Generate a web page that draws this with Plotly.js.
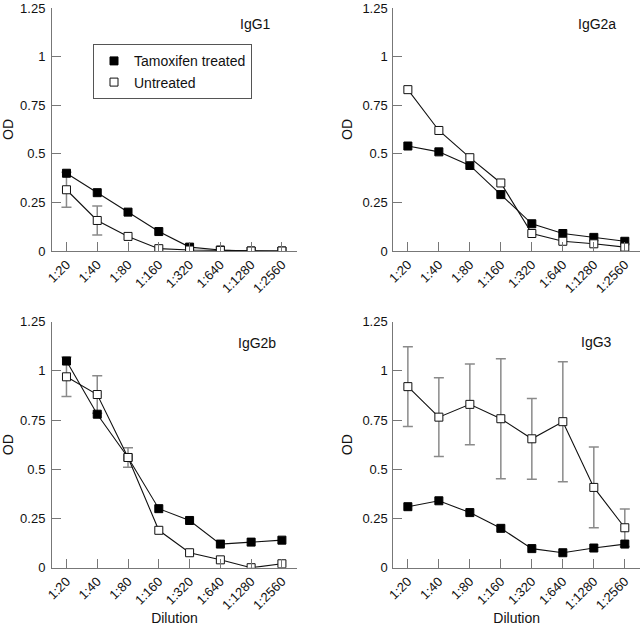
<!DOCTYPE html>
<html>
<head>
<meta charset="utf-8">
<script src="https://cdn.plot.ly/plotly-3.0.1.min.js"></script>
<style>html,body{margin:0;padding:0;background:#fff;}#chart{width:640px;height:626px;}</style>
</head>
<body>
<div id="chart"></div>
<script>
// ---- data ----
const dilutions = ['1:20','1:40','1:80','1:160','1:320','1:640','1:1280','1:2560'];
const seriesNames = ['Tamoxifen treated','Untreated'];
const panelLabels = ['IgG1','IgG2a','IgG2b','IgG3'];

const igg1Tam  = [0.40, 0.30, 0.20, 0.10, 0.02, 0.005, 0.0, 0.0];
const igg1Unt  = [0.315, 0.157, 0.075, 0.012, 0.005, 0.003, 0.0, 0.0];
const igg1UntErr = [0.09, 0.075, NaN, NaN, NaN, NaN, NaN, NaN];

const igg2aTam = [0.54, 0.51, 0.44, 0.29, 0.14, 0.09, 0.07, 0.05];
const igg2aUnt = [0.83, 0.62, 0.48, 0.35, 0.09, 0.05, 0.037, 0.02];
const igg2aUntErr = [NaN, NaN, NaN, NaN, NaN, NaN, NaN, NaN];

const igg2bTam = [1.05, 0.78, 0.56, 0.30, 0.24, 0.12, 0.13, 0.14];
const igg2bUnt = [0.97, 0.88, 0.56, 0.19, 0.076, 0.04, 0.0, 0.02];
const igg2bUntErr = [0.10, 0.095, 0.05, NaN, NaN, NaN, NaN, NaN];

const igg3Tam  = [0.31, 0.34, 0.28, 0.20, 0.097, 0.076, 0.10, 0.12];
const igg3Unt  = [0.92, 0.765, 0.83, 0.757, 0.655, 0.742, 0.408, 0.203];
const igg3UntErr = [0.203, 0.20, 0.205, 0.305, 0.205, 0.305, 0.205, 0.095];

const yTickVals = [0, 0.25, 0.5, 0.75, 1, 1.25];
const yTickText = ['0', '0.25', '0.5', '0.75', '1', '1.25'];

// ---- styling ----
const FONT = 'Liberation Sans, Arial, Helvetica, sans-serif';
const AXC = '#777';
const tamMarker = {symbol:'square', size:8, color:'#000', line:{color:'#000', width:1}};
const untMarker = {symbol:'square', size:8, color:'#fff', line:{color:'#111', width:1}};
const lineStyle = {color:'#111', width:1.1};

const panels = [
  {tam: igg1Tam,  unt: igg1Unt,  err: igg1UntErr,  xa:'x',  ya:'y'},
  {tam: igg2aTam, unt: igg2aUnt, err: igg2aUntErr, xa:'x2', ya:'y2'},
  {tam: igg2bTam, unt: igg2bUnt, err: igg2bUntErr, xa:'x3', ya:'y3'},
  {tam: igg3Tam,  unt: igg3Unt,  err: igg3UntErr,  xa:'x4', ya:'y4'}
];

const traces = [];
// legend-only entries (markers only, as in the original key)
traces.push({x:[dilutions[0]], y:[null], type:'scatter', mode:'markers', marker:tamMarker,
  name:seriesNames[0], showlegend:true, xaxis:'x', yaxis:'y', hoverinfo:'skip'});
traces.push({x:[dilutions[0]], y:[null], type:'scatter', mode:'markers', marker:untMarker,
  name:seriesNames[1], showlegend:true, xaxis:'x', yaxis:'y', hoverinfo:'skip'});

panels.forEach(p => {
  // error bars of the untreated series, drawn underneath the markers
  traces.push({x:dilutions, y:p.unt, type:'scatter', mode:'markers',
    marker:{size:8, opacity:0}, name:seriesNames[1] + ' SD', showlegend:false,
    error_y:{type:'data', array:p.err, visible:true, color:'#8a8a8a', thickness:1.5, width:5},
    xaxis:p.xa, yaxis:p.ya, hoverinfo:'skip'});
  traces.push({x:dilutions, y:p.tam, type:'scatter', mode:'lines+markers',
    line:lineStyle, marker:tamMarker, name:seriesNames[0], showlegend:false,
    xaxis:p.xa, yaxis:p.ya});
  traces.push({x:dilutions, y:p.unt, type:'scatter', mode:'lines+markers',
    line:lineStyle, marker:untMarker, name:seriesNames[1], showlegend:false,
    xaxis:p.xa, yaxis:p.ya});
});

function xAxis(domain, anchor, withTitle){
  const a = {domain:domain, anchor:anchor, type:'category', categoryorder:'array', categoryarray:dilutions,
    range:[-0.47, 7.49], showline:true, linecolor:AXC, linewidth:1, ticks:'inside', ticklen:9,
    tickcolor:AXC, tickwidth:1, tickangle:-45, tickfont:{family:FONT, size:13, color:'#111'},
    showgrid:false, zeroline:false, fixedrange:true, ticklabeloverflow:'allow'};
  if (withTitle) a.title = {text:'Dilution', font:{family:FONT, size:14, color:'#111'}, standoff:7};
  return a;
}
function yAxis(domain, anchor, standoff){
  return {domain:domain, anchor:anchor, range:[0, 1.25], tickvals:yTickVals, ticktext:yTickText,
    showline:true, linecolor:AXC, linewidth:1, ticks:'inside', ticklen:9, tickcolor:AXC, tickwidth:1,
    tickfont:{family:FONT, size:13, color:'#111'}, showgrid:false, zeroline:false, fixedrange:true,
    ticklabeloverflow:'allow', ticklabelstandoff:standoff,
    title:{text:'OD', font:{family:FONT, size:14, color:'#111'}, standoff:6}};
}

const W = 640, H = 626;
const xL = [52/W, 297/W], xR = [393.3/W, 1.0];
const yT = [1 - 251/H, 1 - 8/H], yB = [1 - 567.7/H, 1 - 321.7/H];

function label(text, xr, ytop){
  return {text:text, xref:'paper', yref:'paper', x:xr/W, y:1 - ytop/H, xanchor:'right', yanchor:'middle',
    showarrow:false, font:{family:FONT, size:14, color:'#111'}};
}

const layout = {
  width:W, height:H, margin:{l:0, r:0, t:0, b:0},
  paper_bgcolor:'#fff', plot_bgcolor:'rgba(0,0,0,0)',
  font:{family:FONT, size:13, color:'#111'},
  showlegend:true,
  legend:{x:93/W, y:1 - 44.3/H, xanchor:'left', yanchor:'top', bgcolor:'#fff',
    bordercolor:'#555', borderwidth:1, font:{family:FONT, size:14, color:'#111'},
    tracegroupgap:0, entrywidth:108, entrywidthmode:'pixels'},
  xaxis: xAxis(xL, 'y', false),
  yaxis: yAxis(yT, 'x', 3),
  xaxis2: xAxis(xR, 'y2', false),
  yaxis2: yAxis(yT, 'x2', 2),
  xaxis3: xAxis(xL, 'y3', true),
  yaxis3: yAxis(yB, 'x3', 3),
  xaxis4: xAxis(xR, 'y4', true),
  yaxis4: yAxis(yB, 'x4', 2),
  annotations: [
    label(panelLabels[0], 273, 24),
    label(panelLabels[1], 618, 24),
    label(panelLabels[2], 278, 343),
    label(panelLabels[3], 614, 342)
  ]
};

Plotly.newPlot('chart', traces, layout, {staticPlot:true, displayModeBar:false});
</script>
</body>
</html>
